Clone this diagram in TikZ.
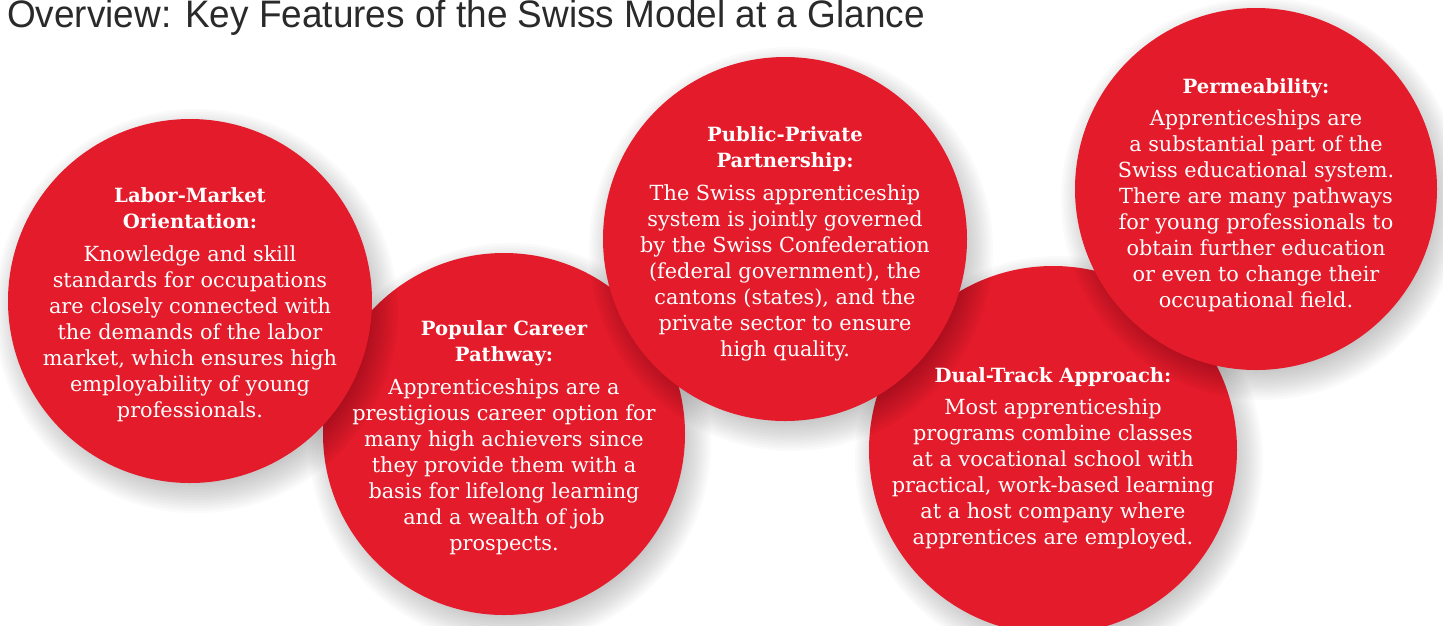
\documentclass[tikz,border=0pt]{standalone}
\usepackage{fontspec}
\setmainfont{DejaVu Serif}
\newfontfamily\titlefont[FakeStretch=0.965]{Liberation Sans}
\definecolor{swissred}{HTML}{E31B2A}
\definecolor{titlegray}{HTML}{2A2A2A}
\tikzset{
  bubble/.style={circle, fill=swissred, inner sep=0pt, minimum size=#1},
  bubbletext/.style={text=white, align=center, inner sep=0pt,
    font=\fontsize{20.8}{26}\selectfont},
}
\newcommand{\hd}[1]{{\fontsize{19.6}{26}\selectfont\bfseries #1}}
\newcommand{\softshadow}[3]{%
  \foreach \k in {0,...,13}{
    \fill[black, opacity=0.02] (#1+6,#2+10) circle[radius={(#3+20-2.6*\k)*1pt}];
  }%
}
\begin{document}
\begin{tikzpicture}[x=1pt,y=-1pt]
\useasboundingbox (0,0) rectangle (1443,625);
\clip (0,0) rectangle (1443,625);
% title
\node[anchor=base west, inner sep=0pt, text=titlegray,
  font=\titlefont\fontsize{38.3}{38}\selectfont] (title) at (7,27.5)
  {Overview: Key Features of the Swiss Model at a Glance};
% lower layer
\softshadow{504}{434}{181}
\node[bubble=362pt] (c2) at (504,434) {};
\softshadow{1053}{450}{184}
\node[bubble=368pt] (c4) at (1053,450) {};
% upper layer
\softshadow{190}{301}{182}
\node[bubble=364pt] (c1) at (190,301) {};
\softshadow{785}{239}{182}
\node[bubble=364pt] (c3) at (785,239) {};
\softshadow{1256}{189}{181}
\node[bubble=362pt] (c5) at (1256,189) {};
% texts
\node[bubbletext] (t1) at (190,305) {\hd{Labor-Market}\\\hd{Orientation:}\\[7pt]
Knowledge and skill\\standards for occupations\\are closely connected with\\the demands of the labor\\market, which ensures high\\employability of young\\professionals.};
\node[bubbletext] (t2) at (504,438) {\hd{Popular Career}\\\hd{Pathway:}\\[7pt]
Apprenticeships are a\\prestigious career option for\\many high achievers since\\they provide them with a\\basis for lifelong learning\\and a wealth of job\\prospects.};
\node[bubbletext] (t3) at (785,244) {\hd{Public-Private}\\\hd{Partnership:}\\[7pt]
The Swiss apprenticeship\\system is jointly governed\\by the Swiss Confederation\\(federal government), the\\cantons (states), and the\\private sector to ensure\\high quality.};
\node[bubbletext] (t4) at (1053,458) {\hd{Dual-Track Approach:}\\[6pt]
Most apprenticeship\\programs combine classes\\at a vocational school with\\practical, work-based learning\\at a host company where\\apprentices are employed.};
\node[bubbletext] (t5) at (1256,195) {\hd{Permeability:}\\[6pt]
Apprenticeships are\\a substantial part of the\\Swiss educational system.\\There are many pathways\\for young professionals to\\obtain further education\\or even to change their\\occupational field.};
\end{tikzpicture}
\end{document}
